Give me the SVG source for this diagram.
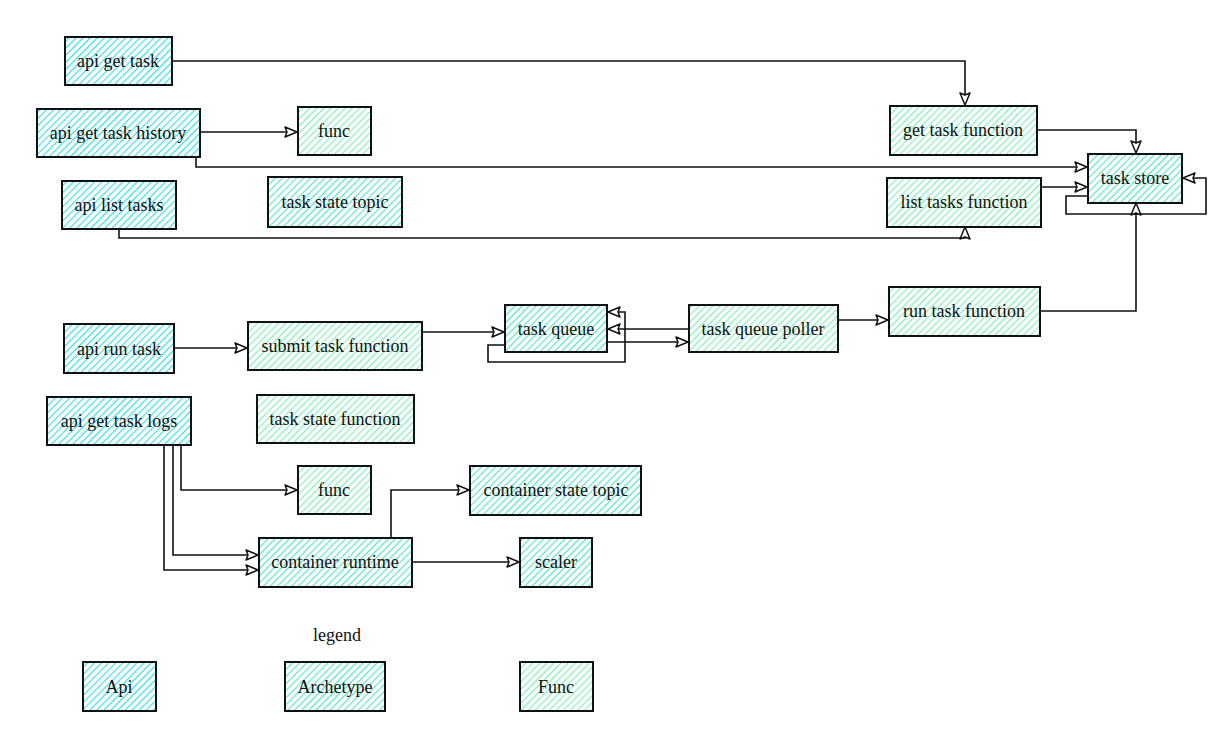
<svg xmlns="http://www.w3.org/2000/svg" width="1219" height="738" viewBox="0 0 1219 738">
<defs>
<pattern id="hApi" patternUnits="userSpaceOnUse" width="5" height="5" patternTransform="rotate(45)"><rect width="5" height="5" fill="#ffffff"/><line x1="0" y1="0" x2="0" y2="5" stroke="#2fdfe6" stroke-width="2.2"/></pattern>
<pattern id="hArc" patternUnits="userSpaceOnUse" width="5" height="5" patternTransform="rotate(45)"><rect width="5" height="5" fill="#ffffff"/><line x1="0" y1="0" x2="0" y2="5" stroke="#4fe6c4" stroke-width="2.2"/></pattern>
<pattern id="hFun" patternUnits="userSpaceOnUse" width="5" height="5" patternTransform="rotate(45)"><rect width="5" height="5" fill="#ffffff"/><line x1="0" y1="0" x2="0" y2="5" stroke="#7ef0b8" stroke-width="2.2"/></pattern>
<marker id="arr" markerWidth="16" markerHeight="14" refX="13" refY="7" orient="auto" markerUnits="userSpaceOnUse"><path d="M1,2 L13,7 L1,12 L3,7 Z" fill="#ffffff" stroke="#111" stroke-width="1.5" stroke-linejoin="round"/></marker>
</defs>
<style>
.n rect{stroke:#111;stroke-width:2}
.api rect{fill:url(#hApi)}
.arc rect{fill:url(#hArc)}
.fun rect{fill:url(#hFun)}
text{font-family:"Liberation Serif","Times New Roman",serif;font-size:18px;fill:#111;text-anchor:middle;dominant-baseline:central}
.c path{fill:none;stroke:#111;stroke-width:1.6;marker-end:url(#arr)}
</style>
<g class="c" id="connectors">
<path d="M172,61 H965 V105"/>
<path d="M200,132 H297"/>
<path d="M196,157 V167 H1087"/>
<path d="M119,229 V238 H965 V227"/>
<path d="M1037,130 H1136 V153"/>
<path d="M1041,187 H1087"/>
<path d="M1088,196 H1066 V214 H1206 V178 H1183"/>
<path d="M1040,311 H1136 V203"/>
<path d="M174,348 H247"/>
<path d="M421,332 H504"/>
<path d="M505,345 H488 V362 H625 V312 H608"/>
<path d="M689,329 H608"/>
<path d="M607,342 H688"/>
<path d="M838,320 H888"/>
<path d="M181,445 V490 H297"/>
<path d="M173,445 V555 H258"/>
<path d="M164,445 V570 H258"/>
<path d="M391,538 V490 H469"/>
<path d="M412,562 H519"/>
</g>
<g id="api-get-task" class="n api"><rect x="65" y="37" width="107" height="48"/><text x="118" y="61">api get task</text></g>
<g id="api-get-task-history" class="n api"><rect x="37" y="109" width="163" height="48"/><text x="118" y="133">api get task history</text></g>
<g id="func-top" class="n fun"><rect x="298" y="107" width="73" height="48"/><text x="334" y="131">func</text></g>
<g id="api-list-tasks" class="n api"><rect x="62" y="181" width="114" height="48"/><text x="119" y="205">api list tasks</text></g>
<g id="task-state-topic" class="n arc"><rect x="268" y="177" width="134" height="50"/><text x="335" y="202">task state topic</text></g>
<g id="get-task-function" class="n fun"><rect x="890" y="106" width="147" height="49"/><text x="963" y="130">get task function</text></g>
<g id="task-store" class="n arc"><rect x="1088" y="154" width="94" height="49"/><text x="1135" y="178">task store</text></g>
<g id="list-tasks-function" class="n fun"><rect x="887" y="178" width="154" height="49"/><text x="964" y="202">list tasks function</text></g>
<g id="api-run-task" class="n api"><rect x="64" y="324" width="110" height="49"/><text x="119" y="349">api run task</text></g>
<g id="submit-task-function" class="n fun"><rect x="248" y="322" width="174" height="48"/><text x="335" y="346">submit task function</text></g>
<g id="task-queue" class="n arc"><rect x="505" y="305" width="102" height="47"/><text x="556" y="329">task queue</text></g>
<g id="task-queue-poller" class="n fun"><rect x="689" y="305" width="149" height="47"/><text x="763" y="329">task queue poller</text></g>
<g id="run-task-function" class="n fun"><rect x="889" y="287" width="151" height="49"/><text x="964" y="311">run task function</text></g>
<g id="api-get-task-logs" class="n api"><rect x="47" y="397" width="144" height="48"/><text x="119" y="421">api get task logs</text></g>
<g id="task-state-function" class="n fun"><rect x="257" y="395" width="157" height="48"/><text x="335" y="419">task state function</text></g>
<g id="func-bottom" class="n fun"><rect x="298" y="466" width="73" height="48"/><text x="334" y="490">func</text></g>
<g id="container-state-topic" class="n arc"><rect x="470" y="466" width="171" height="49"/><text x="556" y="490">container state topic</text></g>
<g id="container-runtime" class="n arc"><rect x="259" y="538" width="153" height="49"/><text x="335" y="562">container runtime</text></g>
<g id="scaler" class="n arc"><rect x="520" y="538" width="72" height="49"/><text x="556" y="562">scaler</text></g>
<g id="legend">
<text x="337" y="635">legend</text>
<g id="legend-api" class="n api"><rect x="83" y="662" width="73" height="49"/><text x="119" y="687">Api</text></g>
<g id="legend-archetype" class="n arc"><rect x="285" y="662" width="100" height="49"/><text x="335" y="687">Archetype</text></g>
<g id="legend-func" class="n fun"><rect x="520" y="662" width="73" height="49"/><text x="556" y="687">Func</text></g>
</g>
</svg>
